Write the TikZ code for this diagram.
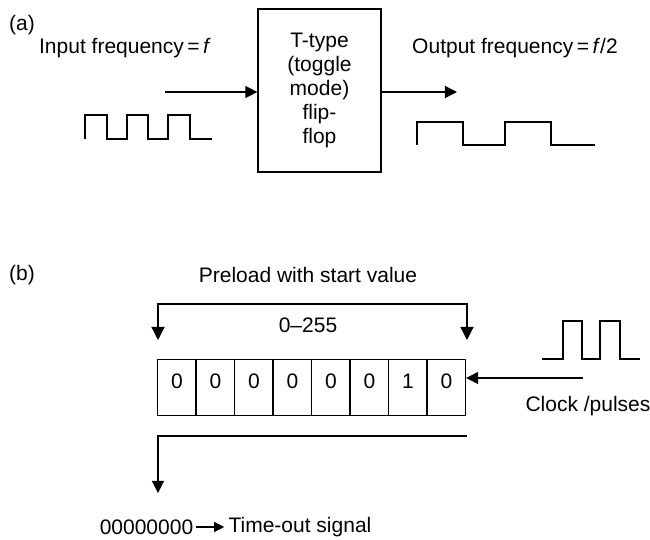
\documentclass[tikz,border=0pt]{standalone}
\usepackage{fontspec}
\setmainfont{Liberation Sans}
\usepackage{tikz}
\usetikzlibrary{positioning, arrows.meta}

\begin{document}
\begin{tikzpicture}[x=0.5pt, y=-0.5pt,
	every node/.style={font=\fontsize{10.5}{12}\selectfont, inner sep=0pt},
	block/.style={draw, line width=0.6pt, minimum width=61.5pt, minimum height=81.5pt, align=center},
	cell/.style={draw, line width=0.6pt, minimum width=19.25pt, text height=14.25pt, text depth=13.75pt, anchor=north west},
	wave/.style={line width=1.1pt},
	arr/.style={line width=0.6pt, -{Triangle[length=6pt, width=6pt]}},
	dbl/.style={line width=0.6pt, {Triangle[length=6.5pt, width=6.5pt]}-{Triangle[length=6.5pt, width=6.5pt]}}]
	\useasboundingbox (0,0) rectangle (650,540);
	
	% (a) divide by two
	\node (lbla) at (22,25) {(a)};
	\node (infreq) at (125,48) {Input frequency\,=\,\textit{f}};
	\node[block] (ff) at (319.5,90.5) {T-type\\(toggle\\mode)\\flip-\\flop};
	\node (outfreq) at (515,48) {Output frequency\,=\,\textit{f}/2};
	
	\coordinate (inarr) at (165,92);
	\coordinate (outarr) at (457,92);
	\draw[arr] (inarr) -- (inarr -| ff.west);
	\draw[arr] (ff.east |- outarr) -- (outarr);
	
	% Input and output pulse trains
	\draw[wave] (85,139) -- (85,115) -- (107,115) -- (107,139) -- (127,139) -- (127,115) -- (148,115) -- (148,139)
		-- (168,139) -- (168,115) -- (190,115) -- (190,139) -- (212,139);
	\draw[wave] (417,145) -- (417,122) -- (463,122) -- (463,145) -- (505,145) -- (505,122) -- (551,122) -- (551,145) -- (595,145);
	
	% (b) counter register
	\node (lblb) at (22,275) {(b)};
	\node (preload) at (308,275) {Preload with start value};
	\node (range) at (308,325) {0--255};
	\foreach \d [count=\i] in {0,0,0,0,0,0,1,0}
		\node[cell] (c\i) at ({157+38.5*(\i-1)},359) {\d};
	
	% Preload bracket
	\coordinate (brl) at (158,340);
	\coordinate (brtop) at (308,304);
	\coordinate (brr) at (467,340);
	\draw[dbl] (brl) |- (brtop) -| (brr);
	
	% Clock input
	\draw[wave] (542,359) -- (563,359) -- (563,321) -- (582,321) -- (582,359) -- (600,359) -- (600,321) -- (620,321) -- (620,359) -- (640,359);
	\coordinate (clk) at (583,378);
	\draw[arr] (clk) -- (clk -| c8.east);
	\node (clock) at (588,406) {Clock /pulses};
	
	% Time-out output
	\coordinate (tor) at (467,436);
	\coordinate (tol) at (158,493);
	\draw[arr] (tor) -| (tol);
	\node (zeros) at (146.5,527) {00000000};
	\node (tout) at (300,527) {Time-out signal};
	\draw[line width=0.6pt, -{Triangle[length=5pt, width=5pt]}, shorten <=1pt, shorten >=2pt] (zeros) -- (tout);
\end{tikzpicture}
\end{document}
